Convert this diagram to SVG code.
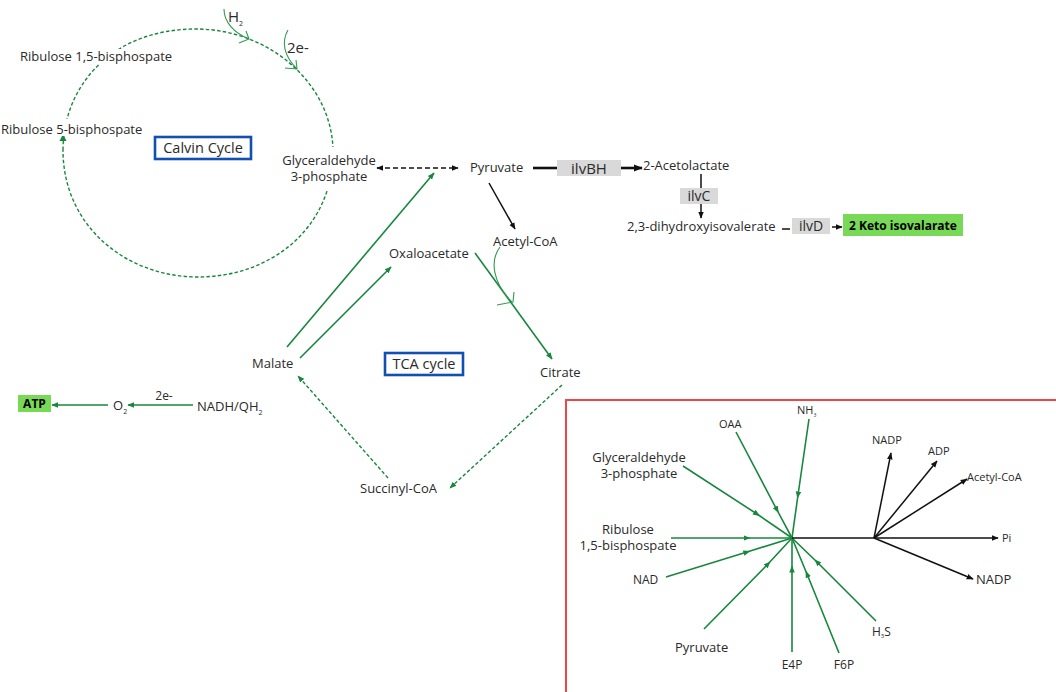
<svg xmlns="http://www.w3.org/2000/svg" width="1056" height="692" viewBox="0 0 1056 692">
  <style>
    text { font-family: "Open Sans", "Liberation Sans", sans-serif; fill: #2a2a2a; font-size: 13px; }
    .sm { font-size: 11px; }
    .md { font-size: 12px; }
    .mid { text-anchor: middle; }
    .bold { font-weight: 700; fill: #000; }
    .sub { font-size: 7px; }
    .g { stroke: #17873d; fill: none; stroke-width: 1.6; }
    .gd { stroke: #17873d; fill: none; stroke-width: 1.4; stroke-dasharray: 3.5 2.2; }
    .gthin { stroke: #2f9a52; fill: none; stroke-width: 1.1; }
    .k { stroke: #111; fill: none; stroke-width: 1.5; }
    .kthick { stroke: #111; fill: none; stroke-width: 2.6; }
    .enz { fill: #d9d9d9; }
    .hl { fill: #78d957; }
    .cycbox { fill: #fff; stroke: #114fb3; stroke-width: 2.6; }
    .mask { fill: #fff; }
  </style>
  <defs>
    <marker id="ak" viewBox="0 0 10 10" refX="9" refY="5" markerWidth="7" markerHeight="7" markerUnits="userSpaceOnUse" orient="auto-start-reverse">
      <path d="M0,1 L10,5 L0,9 z" fill="#111"/>
    </marker>
    <marker id="akb" viewBox="0 0 10 10" refX="9" refY="5" markerWidth="9" markerHeight="9" markerUnits="userSpaceOnUse" orient="auto">
      <path d="M0,1 L10,5 L0,9 z" fill="#111"/>
    </marker>
    <marker id="ag" viewBox="0 0 10 10" refX="9" refY="5" markerWidth="7" markerHeight="7" markerUnits="userSpaceOnUse" orient="auto">
      <path d="M0,1 L10,5 L0,9 z" fill="#17873d"/>
    </marker>
    <marker id="agm" viewBox="0 0 10 10" refX="5" refY="5" markerWidth="7" markerHeight="7" markerUnits="userSpaceOnUse" orient="auto">
      <path d="M0,1 L10,5 L0,9 z" fill="#17873d"/>
    </marker>
  </defs>

  <!-- Calvin cycle loop -->
  <g id="calvin-loop">
    <path class="gd" d="M63 150 C63 88 110 29 196 29 C270 29 333 85 333 152 C333 227 272 277 198 277 C126 277 63 226 63 150"/>
    <path d="M63 134 L59.5 141 L66.5 141 z" fill="#17873d"/>
    <!-- H2 and electron inputs joining the loop -->
    <path class="gthin" d="M224 9 C224 22 234 33 249 39"/>
    <path class="gthin" d="M246 31 L249 39 L239 43"/>
    <path class="gthin" d="M288 30 C281 42 284 56 297 69"/>
    <path class="gthin" d="M296 60 L297 69 L285 68"/>
  </g>

  <!-- Calvin cycle labels (white backing breaks the loop) -->
  <g id="node-rubp">
    <rect class="mask" x="18" y="49" width="160" height="15"/>
    <text x="20" y="61">Ribulose 1,5-bisphospate</text>
  </g>
  <g id="node-ru5p">
    <rect class="mask" x="0" y="119" width="150" height="17"/>
    <text x="1" y="134">Ribulose 5-bisphospate</text>
  </g>
  <g id="node-g3p">
    <rect class="mask" x="279" y="147" width="100" height="42"/>
    <text class="mid" x="329" y="165">Glyceraldehyde</text>
    <text class="mid" x="329" y="181">3-phosphate</text>
  </g>
  <g id="label-h2">
    <text x="228" y="22" style="font-size:15px">H<tspan class="sub" dy="4">2</tspan></text>
  </g>
  <g id="label-2e">
    <text x="287" y="53" style="font-size:15px">2e-</text>
  </g>
  <g id="box-calvin">
    <rect class="cycbox" x="155" y="137" width="96" height="22"/>
    <text class="mid" x="203" y="153" style="font-size:14.5px">Calvin Cycle</text>
  </g>

  <!-- Valine branch -->
  <g id="node-pyruvate"><text x="470" y="172">Pyruvate</text></g>
  <g id="node-ilvbh">
    <rect class="enz" x="557" y="160" width="64" height="16"/>
    <text class="mid" x="589" y="174" style="font-size:15px">ilvBH</text>
  </g>
  <g id="node-acetolactate"><text x="643" y="170">2-Acetolactate</text></g>
  <g id="node-ilvc">
    <rect class="enz" x="680" y="188" width="38" height="16"/>
    <text class="mid" x="699" y="201" style="font-size:14px">ilvC</text>
  </g>
  <g id="node-dhiv"><text x="627" y="231">2,3-dihydroxyisovalerate</text></g>
  <g id="node-ilvd">
    <rect class="enz" x="792" y="218" width="38" height="16"/>
    <text class="mid" x="811" y="231" style="font-size:14px">ilvD</text>
  </g>
  <g id="node-kiv">
    <rect class="hl" x="843" y="214" width="120" height="22"/>
    <text class="mid bold" x="903" y="230" style="font-size:12px">2 Keto isovalarate</text>
  </g>

  <!-- TCA cycle -->
  <g id="node-acetylcoa"><text x="493" y="246">Acetyl-CoA</text></g>
  <g id="node-oaa"><text x="389" y="258">Oxaloacetate</text></g>
  <g id="node-malate"><text x="252" y="368">Malate</text></g>
  <g id="node-citrate"><text x="540" y="377">Citrate</text></g>
  <g id="node-succinyl"><text x="360" y="493">Succinyl-CoA</text></g>
  <g id="box-tca">
    <rect class="cycbox" x="385" y="353" width="78" height="22"/>
    <text class="mid" x="424" y="369" style="font-size:14.5px">TCA cycle</text>
  </g>

  <!-- Respiration chain -->
  <g id="node-atp">
    <rect class="hl" x="18" y="395" width="33" height="17"/>
    <text class="mid bold" x="34.5" y="408" style="font-size:12px">ATP</text>
  </g>
  <g id="node-o2">
    <text x="113" y="410">O<tspan class="sub" dy="4">2</tspan></text>
  </g>
  <g id="node-nadh">
    <text x="197" y="411">NADH/QH<tspan class="sub" dy="4">2</tspan></text>
  </g>
  <g id="label-2e-resp"><text class="mid md" x="164" y="400">2e-</text></g>

  <!-- Biomass reaction panel -->
  <g id="panel-frame">
    <rect x="566" y="400" width="500" height="300" fill="none" stroke="#f04545" stroke-width="2"/>
  </g>
  <g id="panel-labels">
    <text class="sm" x="797" y="414">NH<tspan class="sub" dy="3" style="font-size:5px">3</tspan></text>
    <text class="sm" x="719" y="428">OAA</text>
    <text class="mid" x="639" y="462">Glyceraldehyde</text>
    <text class="mid" x="639" y="478">3-phosphate</text>
    <text class="mid" x="628" y="534">Ribulose</text>
    <text class="mid" x="628" y="550">1,5-bisphospate</text>
    <text class="md" x="633" y="584">NAD</text>
    <text x="675" y="652">Pyruvate</text>
    <text class="md mid" x="792" y="669">E4P</text>
    <text class="md mid" x="844" y="669">F6P</text>
    <text class="md" x="872" y="636">H<tspan class="sub" dy="2" style="font-size:6px">3</tspan><tspan dy="-2">S</tspan></text>
    <text class="sm" x="872" y="444">NADP</text>
    <text class="sm" x="928" y="455">ADP</text>
    <text class="sm" x="967" y="481">Acetyl-CoA</text>
    <text class="sm" x="1002" y="542">Pi</text>
    <text x="976" y="584">NADP</text>
  </g>

  <!-- Connectors -->
  <g id="connectors">
    <!-- Glyceraldehyde 3-phosphate <-> Pyruvate -->
    <line class="k" x1="377" y1="168" x2="458" y2="168" stroke-dasharray="5 3" marker-start="url(#ak)" marker-end="url(#ak)"/>
    <!-- Pyruvate -> Acetyl-CoA -->
    <line class="k" x1="489" y1="183" x2="515" y2="229" marker-end="url(#ak)"/>
    <!-- ilvBH step -->
    <line class="kthick" x1="533" y1="168" x2="557" y2="168"/>
    <line class="kthick" x1="621" y1="168" x2="642" y2="168" marker-end="url(#akb)"/>
    <!-- ilvC step -->
    <line class="k" x1="701" y1="174" x2="701" y2="188"/>
    <line class="k" x1="701" y1="204" x2="701" y2="218" marker-end="url(#ak)"/>
    <!-- ilvD step -->
    <line class="k" x1="782" y1="229" x2="790" y2="229"/>
    <line class="k" x1="832" y1="227" x2="842" y2="227" marker-end="url(#ak)"/>

    <!-- Malate -> Pyruvate, Malate -> Oxaloacetate -->
    <line class="g" x1="287" y1="347" x2="434" y2="173" marker-end="url(#ag)"/>
    <line class="g" x1="300" y1="358" x2="391" y2="267" marker-end="url(#ag)"/>
    <!-- Oxaloacetate -> Citrate, with Acetyl-CoA joining -->
    <line class="g" x1="475" y1="253" x2="552" y2="359" marker-end="url(#ag)"/>
    <path class="gthin" d="M500 247 C490 260 492 282 512 302"/>
    <path class="gthin" d="M514 292 L513 302 L497 305"/>
    <!-- Citrate -> Succinyl-CoA, Succinyl-CoA -> Malate -->
    <line class="gd" x1="562" y1="385" x2="450" y2="488" marker-end="url(#ag)"/>
    <line class="gd" x1="388" y1="478" x2="298" y2="376" marker-end="url(#ag)"/>

    <!-- NADH/QH2 -> O2 -> ATP -->
    <line class="g" x1="193" y1="405" x2="128" y2="405" marker-end="url(#ag)"/>
    <line class="g" x1="108" y1="405" x2="52" y2="405" marker-end="url(#ag)"/>

    <!-- Biomass inputs into the hub -->
    <path class="g" d="M809 419 L798 495 L792 538" marker-mid="url(#agm)"/>
    <path class="g" d="M736 432 L777 510 L792 538" marker-mid="url(#agm)"/>
    <path class="g" d="M683 466 L757 514 L792 538" marker-mid="url(#agm)"/>
    <path class="g" d="M671 538 L747 538 L792 538" marker-mid="url(#agm)"/>
    <path class="g" d="M666 577 L747 552 L792 538" marker-mid="url(#agm)"/>
    <path class="g" d="M704 629 L768 564 L792 538" marker-mid="url(#agm)"/>
    <path class="g" d="M792 652 L792 569 L792 538" marker-mid="url(#agm)"/>
    <path class="g" d="M839 653 L807 574 L792 538" marker-mid="url(#agm)"/>
    <path class="g" d="M876 621 L817 562 L792 538" marker-mid="url(#agm)"/>

    <!-- Biomass outputs -->
    <line class="k" x1="792" y1="538" x2="998" y2="538" marker-end="url(#ak)"/>
    <line class="k" x1="874" y1="538" x2="891" y2="453" marker-end="url(#ak)"/>
    <line class="k" x1="874" y1="538" x2="937" y2="461" marker-end="url(#ak)"/>
    <line class="k" x1="874" y1="538" x2="967" y2="479" marker-end="url(#ak)"/>
    <line class="k" x1="874" y1="538" x2="973" y2="579" marker-end="url(#ak)"/>
  </g>
</svg>
